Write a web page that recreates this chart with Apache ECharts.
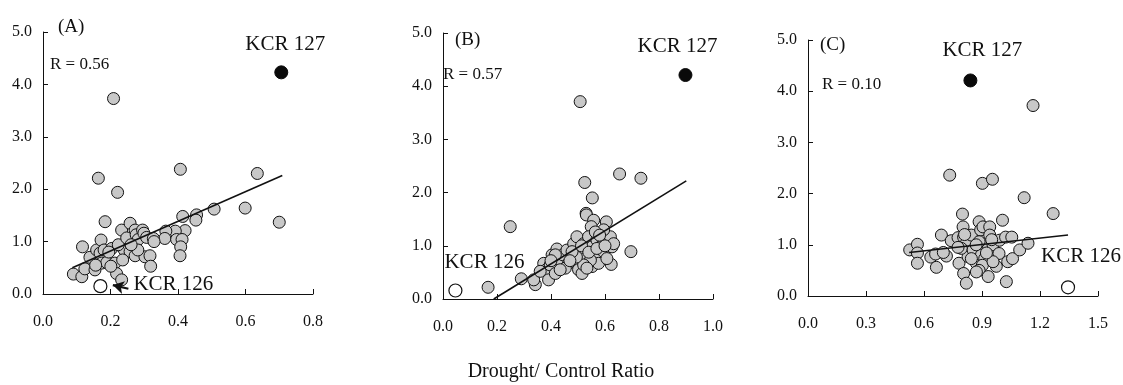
<!DOCTYPE html>
<html>
<head>
<meta charset="utf-8">
<script src="https://cdn.jsdelivr.net/npm/echarts@6/dist/echarts.min.js"></script>
<style>html,body{margin:0;padding:0;background:#fff;}#c{width:1123px;height:385px;}</style>
</head>
<body>
<div id="c"></div>
<script>
// ---- Data ----
const panelLabels = ['(A)', '(B)', '(C)'];
const rLabels = ['R = 0.56', 'R = 0.57', 'R = 0.10'];
const xLabel = 'Drought/ Control Ratio';
const xMax = [0.8, 1.0, 1.5];
const xInterval = [0.2, 0.2, 0.3];
const yMax = 5;
const yInterval = 1;

const pointsA = [
[0.209,3.73],[0.164,2.21],[0.221,1.94],[0.407,2.38],[0.635,2.30],[0.599,1.64],[0.507,1.62],[0.455,1.51],
[0.453,1.41],[0.414,1.48],[0.421,1.21],[0.700,1.37],[0.392,1.20],[0.364,1.20],[0.361,1.06],[0.396,1.04],
[0.412,1.04],[0.408,0.90],[0.406,0.73],[0.184,1.38],[0.117,0.90],[0.090,0.38],[0.115,0.33],[0.124,0.48],
[0.139,0.70],[0.154,0.46],[0.159,0.84],[0.172,1.03],[0.169,0.78],[0.181,0.84],[0.174,0.59],[0.189,0.60],
[0.204,0.87],[0.213,0.59],[0.218,0.39],[0.233,1.22],[0.241,0.84],[0.233,0.27],[0.223,0.94],[0.248,1.07],
[0.258,1.35],[0.273,1.22],[0.276,1.13],[0.282,1.04],[0.258,0.81],[0.273,0.73],[0.295,1.22],[0.299,1.16],
[0.307,1.08],[0.302,0.71],[0.317,0.73],[0.319,0.53],[0.327,1.06],[0.329,1.00],[0.201,0.53],[0.236,0.65],
[0.281,0.84],[0.261,0.94],[0.156,0.55],[0.195,0.80]
];
const pointsB = [
[0.508,3.71],[0.167,0.22],[0.249,1.36],[0.290,0.38],[0.654,2.35],[0.733,2.27],[0.525,2.19],[0.553,1.90],
[0.530,1.61],[0.531,1.58],[0.605,1.45],[0.558,1.48],[0.549,1.36],[0.696,0.89],[0.623,0.65],[0.342,0.27],
[0.336,0.36],[0.373,0.67],[0.383,0.55],[0.391,0.36],[0.397,0.64],[0.404,0.83],[0.416,0.48],[0.422,0.94],
[0.434,0.73],[0.444,0.83],[0.459,0.92],[0.465,0.67],[0.478,0.76],[0.484,1.04],[0.496,1.17],[0.496,0.67],
[0.502,0.55],[0.515,0.48],[0.509,0.92],[0.521,1.04],[0.533,0.79],[0.539,1.17],[0.552,0.98],[0.552,0.61],
[0.564,0.79],[0.570,1.11],[0.576,0.67],[0.583,0.98],[0.595,0.89],[0.607,1.11],[0.620,1.17],[0.626,0.98],
[0.632,1.04],[0.595,1.30],[0.360,0.52],[0.453,0.58],[0.546,0.73],[0.521,0.64],[0.494,0.79],[0.478,0.89],
[0.434,0.55],[0.607,0.76],[0.564,1.26],[0.416,0.83],[0.533,0.58],[0.513,1.00],[0.540,0.88],[0.570,0.95],
[0.600,1.00],[0.470,0.72],[0.400,0.72],[0.580,1.20]
];
const pointsC = [
[1.164,3.72],[0.733,2.36],[0.902,2.20],[0.954,2.28],[1.118,1.92],[1.268,1.61],[0.799,1.60],[1.006,1.48],
[0.526,0.90],[0.566,1.01],[0.566,0.84],[0.566,0.64],[0.635,0.76],[0.660,0.82],[0.664,0.56],[0.690,1.19],
[0.716,0.78],[0.741,1.08],[0.776,1.14],[0.781,0.64],[0.802,1.35],[0.805,1.15],[0.819,1.03],[0.828,0.77],
[0.805,0.44],[0.819,0.25],[0.793,0.93],[0.845,1.19],[0.854,0.90],[0.871,0.64],[0.885,1.45],[0.893,1.29],
[0.905,1.35],[0.923,1.03],[0.885,1.06],[0.897,0.80],[0.914,0.73],[0.902,0.60],[0.885,0.50],[0.940,1.35],
[0.940,1.19],[0.957,1.00],[0.974,0.58],[0.932,0.38],[0.988,0.83],[0.991,1.09],[1.022,1.15],[1.026,0.28],
[1.054,1.15],[1.033,0.67],[1.058,0.73],[1.095,0.90],[1.138,1.03],[0.845,0.73],[0.957,0.67],[0.871,0.47],
[0.776,0.95],[0.923,0.84],[0.700,0.85],[0.810,1.20],[0.950,1.10],[0.870,1.00]
];
const kcr127 = [[0.706,4.23],[0.898,4.21],[0.840,4.21]];
const kcr126 = [[0.170,0.15],[0.046,0.16],[1.345,0.17]];
const regA = [[0.087,0.50],[0.709,2.26]];
const regB = [[0.188,0.00],[0.901,2.22]];
const regC = [[0.523,0.85],[1.345,1.19]];
const arrowA = [[0.253,0.10],[0.207,0.17]];

const points = [pointsA, pointsB, pointsC];
const regs = [regA, regB, regC];

// ---- Styles ----
const FONT = '"Liberation Serif","Times New Roman",serif';
const INK = '#111';
const grids = [
  {left: 43, right: 810, top: 32, bottom: 91},
  {left: 443, right: 410, top: 33, bottom: 86},
  {left: 808, right: 25, top: 40, bottom: 89}
];
const k127Offset = [[4, -28], [-8, -29], [12, -30]];
const k126Offset = [[73, -2], [29, -28], [13, -31]];
const panelPos = [[58, 27], [455, 40], [820, 45]];
const rPos = [[50, 65], [443, 75], [822, 85]];

const labelStyle = (txt, off) => ({
  show: true, formatter: txt, position: 'inside', offset: off,
  fontFamily: FONT, fontSize: 21, color: INK,
  textBorderWidth: 0, textBorderColor: 'transparent', textShadowBlur: 0, opacity: 1
});

const xAxes = [], yAxes = [], series = [], graphic = [];
for (let i = 0; i < 3; i++) {
  xAxes.push({
    type: 'value', gridIndex: i, min: 0, max: xMax[i], interval: xInterval[i],
    axisLine: {show: true, lineStyle: {color: INK, width: 1}},
    axisTick: {show: true, inside: true, length: 5, lineStyle: {color: INK}},
    axisLabel: {formatter: v => v.toFixed(1), fontFamily: FONT, fontSize: 16, color: INK, margin: 20},
    splitLine: {show: false}
  });
  yAxes.push({
    type: 'value', gridIndex: i, min: 0, max: yMax, interval: yInterval,
    axisLine: {show: true, lineStyle: {color: INK, width: 1}},
    axisTick: {show: true, inside: true, length: 5, lineStyle: {color: INK}},
    axisLabel: {formatter: v => v.toFixed(1), fontFamily: FONT, fontSize: 16, color: INK, margin: 11},
    splitLine: {show: false}
  });
  series.push({
    type: 'scatter', xAxisIndex: i, yAxisIndex: i, symbol: 'circle', symbolSize: 12,
    itemStyle: {color: '#c8c8c8', borderColor: INK, borderWidth: 1, opacity: 1},
    data: points[i], z: 2
  });
  series.push({
    type: 'line', xAxisIndex: i, yAxisIndex: i, data: regs[i], symbol: 'none',
    lineStyle: {color: INK, width: 1.6}, z: 3
  });
  series.push({
    type: 'scatter', xAxisIndex: i, yAxisIndex: i, symbol: 'circle', symbolSize: 13,
    itemStyle: {color: '#0a0a0a', borderColor: '#0a0a0a', borderWidth: 1, opacity: 1},
    label: {show: false},
    data: [{value: kcr127[i], label: labelStyle('KCR 127', k127Offset[i])}], z: 4
  });
  const s126 = {
    type: 'scatter', xAxisIndex: i, yAxisIndex: i, symbol: 'circle', symbolSize: 13,
    itemStyle: {color: '#fff', borderColor: INK, borderWidth: 1.2, opacity: 1},
    label: {show: false},
    data: [{value: kcr126[i], label: labelStyle('KCR 126', k126Offset[i])}], z: 4
  };
  if (i === 0) {
    s126.markLine = {
      silent: true, symbol: ['none', 'arrow'], symbolSize: [10, 11],
      label: {show: false},
      lineStyle: {color: INK, width: 2.2, type: 'solid'},
      data: [[{coord: arrowA[0]}, {coord: arrowA[1]}]]
    };
  }
  series.push(s126);
  graphic.push({type: 'text', x: panelPos[i][0], y: panelPos[i][1],
    style: {text: panelLabels[i], font: '19px ' + FONT, fill: INK, align: 'left', verticalAlign: 'middle'}});
  graphic.push({type: 'text', x: rPos[i][0], y: rPos[i][1],
    style: {text: rLabels[i], font: '17px ' + FONT, fill: INK, align: 'left', verticalAlign: 'middle'}});
}
graphic.push({type: 'text', x: 561, y: 372,
  style: {text: xLabel, font: '20px ' + FONT, fill: INK, align: 'center', verticalAlign: 'middle'}});

const chart = echarts.init(document.getElementById('c'), null, {renderer: 'canvas'});
chart.setOption({
  animation: false,
  backgroundColor: '#fff',
  grid: grids,
  xAxis: xAxes,
  yAxis: yAxes,
  series: series,
  graphic: graphic
});
</script>
</body>
</html>
